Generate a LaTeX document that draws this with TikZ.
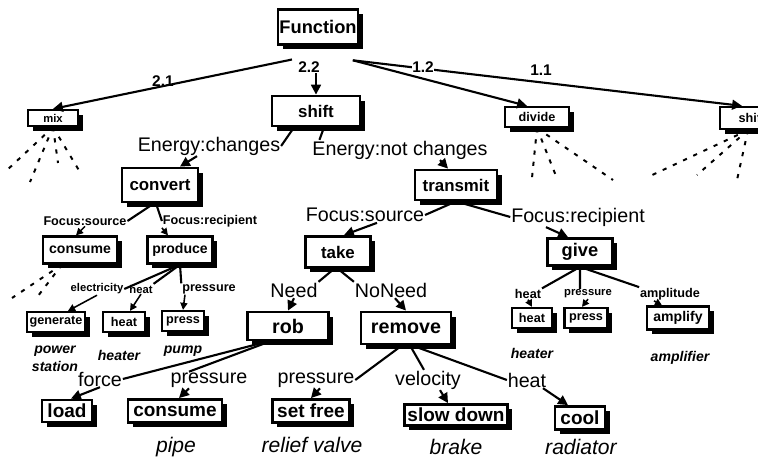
\documentclass[tikz,border=0pt]{standalone}
\usepackage{fontspec}
\setmainfont{Liberation Sans}
\usetikzlibrary{arrows.meta, shadows}

\tikzset{
  bx/.style={draw, line width=2pt, fill=white, inner sep=1pt,
    drop shadow={shadow xshift=3.5pt, shadow yshift=-3.5pt, fill=black, opacity=1}},
  wh/.style 2 args={minimum width=#1*0.025cm, minimum height=#2*0.025cm},
  bigbox/.style={bx, font=\bfseries\fontsize{12}{14}\selectfont},
  lowbox/.style={bx, font=\bfseries\fontsize{13.5}{16}\selectfont},
  smallbox/.style={bx, line width=1.6pt, font=\bfseries\fontsize{9}{11}\selectfont},
  lab/.style={inner sep=0.5pt, font=\fontsize{14}{16}\selectfont},
  slab/.style={inner sep=0.5pt, font=\bfseries\fontsize{9}{11}\selectfont},
  num/.style={inner sep=0.5pt, font=\bfseries\fontsize{11}{13}\selectfont},
  capt/.style={inner sep=0pt, font=\itshape\fontsize{15}{17}\selectfont},
  scapt/.style={inner sep=0pt, font=\bfseries\itshape\fontsize{10}{12.8}\selectfont},
  ln/.style={line width=1.5pt},
  arr/.style={ln, -{Triangle[length=7pt, width=7pt]}},
  sarr/.style={line width=1.1pt, -{Triangle[length=5pt, width=5pt]}},
  dsh/.style={line width=1.4pt, dash pattern=on 3pt off 5pt}
}

\begin{document}
\begin{tikzpicture}[x=0.025cm, y=-0.025cm]
\useasboundingbox (0,0) rectangle (758,457);

% top level
\node[bigbox, wh={80}{35}, font=\bfseries\fontsize{13}{15}\selectfont] (Func) at (318,27) {Function};
\node[smallbox, wh={50}{16}, font=\bfseries\fontsize{8}{9}\selectfont] (Mix) at (53,118) {mix};
\node[bigbox, wh={88}{30}] (Shift) at (316,111) {shift};
\node[smallbox, wh={64}{20}] (Divide) at (537,117) {divide};
\node[smallbox, wh={64}{22}] (ShiftB) at (752,118) {shift};
\node[num] (L21) at (163,81) {2.1};
\node[num] (L22) at (309,67) {2.2};
\node[num] (L11) at (541,70) {1.1};

\draw[arr] ([xshift=-0.65cm,yshift=-0.34cm]Func.south) -- (Mix.north);
\draw[arr] (L22.south -| Shift.north) -- (Shift.north);
\draw[arr] ([xshift=0.87cm,yshift=-0.36cm]Func.south) -- ([xshift=-0.25cm]Divide.north);
\draw[arr] ([xshift=0.87cm,yshift=-0.36cm]Func.south) -- ([xshift=-0.25cm]ShiftB.north);
\node[num, fill=white] (L12) at (423,67) {1.2};

% branches not followed
\coordinate (m1) at (5,172);
\coordinate (m2) at (30,182);
\coordinate (m3) at (58,163);
\coordinate (m4) at (80,172);
\coordinate (d1) at (532,178);
\coordinate (d2) at (556,176);
\coordinate (d3) at (613,180);
\coordinate (s1) at (648,177);
\coordinate (s2) at (697,175);
\coordinate (s3) at (737,180);
\foreach \e in {m1,m2,m3,m4} \draw[dsh] (Mix.south) -- (\e);
\foreach \e in {d1,d2,d3} \draw[dsh] (Divide.south) -- (\e);
\foreach \e in {s1,s2,s3} \draw[dsh] ([xshift=-0.1cm]ShiftB.south) -- (\e);

% energy
\node[lab] (LEc) at (209,146) {Energy:changes};
\node[lab] (LEn) at (400,150) {Energy:not changes};
\node[bigbox, wh={76}{34}] (Conv) at (160,185) {convert};
\node[bigbox, wh={82}{30}] (Trans) at (456,185) {transmit};
\draw[ln] ([xshift=-0.55cm]Shift.south) -- (LEc.east);
\draw[arr] ([xshift=-0.3cm]LEc.south) -- ([xshift=0.5cm]Conv.north);
\draw[ln] ([xshift=0.2cm]Shift.south) -- ([xshift=0.2cm]LEn.north west);
\draw[arr] ([xshift=1cm]LEn.south) -- ([xshift=-0.2cm]Trans.north);

% convert
\node[slab] (LFs1) at (85,221) {Focus:source};
\node[slab] (LFr1) at (210,221) {Focus:recipient};
\node[smallbox, wh={74}{27}, font=\bfseries\fontsize{10}{12}\selectfont] (Cons1) at (80,250) {consume};
\node[smallbox, wh={65}{27}, font=\bfseries\fontsize{10}{12}\selectfont] (Prod) at (180,250) {produce};
\draw[ln] ([xshift=-0.15cm]Conv.south) -- (LFs1.east);
\draw[sarr] (LFs1.south) -- ([xshift=-0.1cm]Cons1.north);
\draw[ln] ([xshift=-0.1cm]Conv.south) -- (LFr1.west);
\draw[sarr] (LFr1.south west) -- ([xshift=-0.3cm]Prod.north);
\coordinate (c1) at (12,298);
\coordinate (c2) at (38,296);
\foreach \e in {c1,c2} \draw[dsh] ([xshift=-0.45cm]Cons1.south) -- (\e);

% produce
\node[slab, font=\bfseries\fontsize{8}{10}\selectfont] (LEl) at (97,289) {electricity};
\node[slab, font=\bfseries\fontsize{8}{10}\selectfont] (LHt1) at (141,289) {heat};
\node[slab] (LPr0) at (209,289) {pressure};
\node[smallbox, wh={58}{20}] (Gen) at (56,322) {generate};
\node[smallbox, wh={42}{20}] (Heat1) at (124,322) {heat};
\node[smallbox, wh={42}{20}] (Press1) at (183,321) {press};
\node[scapt, align=center] (CPow) at (55,359) {power\\station};
\node[scapt] (CHtr1) at (119,355) {heater};
\node[scapt] (CPmp) at (183,351) {pump};
\draw[ln] (Prod.south) -- (LEl.east);
\draw[ln] (Prod.south) -- (LHt1.north east);
\draw[ln] (Prod.south) -- (LPr0.north west);
\draw[sarr] (LEl.south) -- ([xshift=0.3cm]Gen.north);
\draw[sarr] (LHt1.south) -- ([xshift=0.15cm]Heat1.north);
\draw[sarr] ([xshift=-0.6cm]LPr0.south) -- (Press1.north);

% transmit
\node[lab] (LFs2) at (365,215) {Focus:source};
\node[lab] (LFr2) at (578,217) {Focus:recipient};
\node[bigbox, wh={65}{31}] (Take) at (338,252) {take};
\node[bigbox, wh={65}{27}, font=\bfseries\fontsize{13}{15}\selectfont] (Give) at (580,252) {give};
\draw[ln] (Trans.south) -- (LFs2.east);
\draw[ln] (Trans.south) -- (LFr2.west);
\draw[arr] ([xshift=0.3cm]LFs2.south) -- ([xshift=0.15cm]Take.north);
\draw[arr] ([xshift=-0.8cm]LFr2.south) -- ([xshift=-0.3cm]Give.north);

% give
\node[slab] (LHt3) at (528,294) {heat};
\node[slab, font=\bfseries\fontsize{8}{10}\selectfont] (LPr3) at (588,294) {pressure};
\node[slab] (LAmp) at (670,294) {amplitude};
\node[smallbox, wh={40}{20}] (Heat2) at (532,318) {heat};
\node[smallbox, wh={43}{20}] (Press2) at (586,318) {press};
\node[smallbox, wh={62}{23}, font=\bfseries\fontsize{10}{12}\selectfont] (Amp) at (678,318) {amplify};
\node[scapt] (CHtr2) at (532,353) {heater};
\node[scapt] (CAmp) at (680,358) {amplifier};
\draw[ln] (Give.south) -- (LHt3.north east);
\draw[ln] (Give.south) -- ([xshift=-0.2cm]LPr3.north);
\draw[ln] (Give.south) -- (LAmp.north west);
\draw[sarr] (LHt3.south) -- (Heat2.north);
\draw[sarr] (LPr3.south) -- ([xshift=-0.1cm]Press2.north);
\draw[sarr] ([xshift=-0.4cm]LAmp.south) -- ([xshift=-0.4cm]Amp.north);

% take
\node[lab] (LNeed) at (294,290) {Need};
\node[lab] (LNoNeed) at (391,290) {NoNeed};
\node[bigbox, wh={81}{28}, font=\bfseries\fontsize{14}{16}\selectfont] (Rob) at (288,326) {rob};
\node[bigbox, wh={90}{32}, font=\bfseries\fontsize{14}{16}\selectfont] (Rem) at (406,328) {remove};
\draw[ln] ([xshift=-0.1cm]Take.south) -- (LNeed.north east);
\draw[ln] (Take.south) -- (LNoNeed.north west);
\draw[arr] (LNeed.south) -- (Rob.north);
\draw[arr] ([xshift=0.1cm]LNoNeed.south) -- (Rem.north);

% rob
\node[lab] (LForce) at (100,379) {force};
\node[lab] (LPr1) at (209,380) {pressure};
\node[lowbox, wh={50}{22}] (Load) at (67,411) {load};
\node[lowbox, wh={94}{23}] (Cons2) at (175,411) {consume};
\node[capt] (CPipe) at (176,447) {pipe};
\draw[ln] ([xshift=-0.5cm]Rob.south) -- (LForce.east);
\draw[ln] ([xshift=-0.45cm]Rob.south) -- ([xshift=-0.5cm]LPr1.north);
\draw[arr] (LForce.south) -- ([xshift=0.1cm]Load.north);
\draw[arr] ([xshift=-0.5cm]LPr1.south) -- ([xshift=0.1cm]Cons2.north);

% remove
\node[lab] (LPr2) at (316,380) {pressure};
\node[lab] (LVel) at (428,380) {velocity};
\node[lab] (LHt2) at (527,380) {heat};
\node[lowbox, wh={77}{23}] (SetF) at (311,411) {set free};
\node[lowbox, wh={103}{21}] (Slow) at (456,415) {slow down};
\node[lowbox, wh={50}{23}] (Cool) at (580,418) {cool};
\node[capt] (CRel) at (312,445) {relief valve};
\node[capt] (CBrk) at (456,447) {brake};
\node[capt] (CRad) at (581,447) {radiator};
\draw[ln] ([xshift=-0.1cm]Rem.south) -- (LPr2.east);
\draw[ln] ([xshift=0.1cm]Rem.south) -- ([xshift=-0.1cm]LVel.north);
\draw[ln] ([xshift=0.15cm]Rem.south) -- (LHt2.west);
\draw[arr] ([xshift=0.1cm]LPr2.south) -- (SetF.north);
\draw[arr] ([xshift=0.3cm]LVel.south) -- ([xshift=-0.2cm]Slow.north);
\draw[arr] ([xshift=0.4cm]LHt2.south) -- ([xshift=-0.3cm]Cool.north);
\end{tikzpicture}
\end{document}
